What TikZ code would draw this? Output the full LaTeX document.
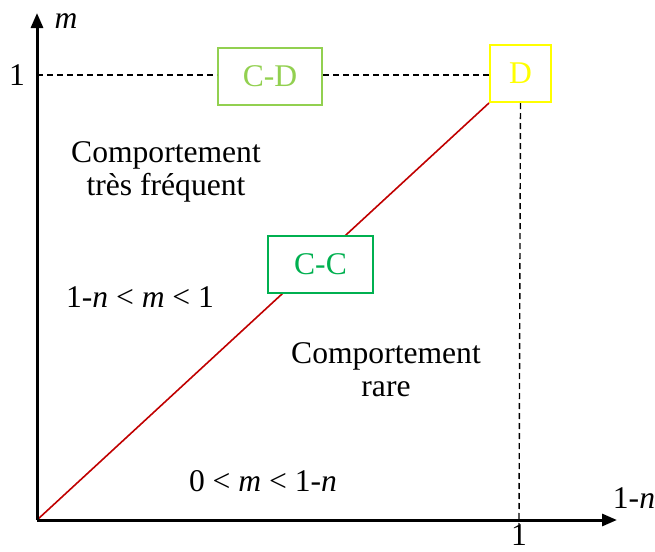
\documentclass[tikz,border=0pt]{standalone}
\usepackage{fontspec}
\setmainfont{Liberation Serif}
\usepackage{xcolor}
\definecolor{lightgreen}{HTML}{92D050}
\definecolor{midgreen}{HTML}{00B050}
\definecolor{brightyellow}{HTML}{FFFF00}
\definecolor{darkred}{HTML}{C00000}
\usepackage{tikz}
\usetikzlibrary{arrows.meta,backgrounds}

\begin{document}
\begin{tikzpicture}[x=0.5pt,y=-0.5pt,font=\fontsize{15.8}{16.6}\selectfont,
  axis/.style={line width=1.5pt,-{Triangle[length=7.5pt,width=6pt]}},
  guide/.style={line width=0.7pt,dash pattern=on 3pt off 2pt},
  zone/.style={align=center,inner sep=0pt},
  state/.style={rectangle,draw,line width=1pt,inner sep=0pt,minimum height=28.5pt}]
  \useasboundingbox (0,0) rectangle (655,552);
  % axes
  \coordinate (O) at (37,520);
  \coordinate (ytip) at (37,13);
  \coordinate (xtip) at (617,520);
  \coordinate (ytick) at (37,75);
  \coordinate (xend) at (519,525);
  \draw[axis] (O) -- (ytip);
  \draw[axis] (O) -- (xtip);
  \node (mlab) at (66,21) {\textit{m}};
  \node (nlab) at (634,498) {1-\textit{n}};
  \node (yone) at (17,75) {1};
  \node[inner sep=0pt] (xone) at (519,535) {1};
  % states
  \node[state,draw=lightgreen,text=lightgreen,minimum width=52pt] (CD) at (270,76.5) {C-D};
  \node[state,draw=brightyellow,text=brightyellow,minimum width=30.5pt] (D) at (520.5,73.5) {D};
  \node[state,draw=midgreen,text=midgreen,fill=white,minimum width=52.5pt] (CC) at (320.5,264) {C-C};
  % guides
  \draw[guide] (ytick) -- (ytick -| CD.west);
  \draw[guide] (ytick -| CD.east) -- (ytick -| D.west);
  \draw[guide] (D.south) -- (xend);
  \begin{pgfonlayer}{background}
    \draw[darkred,line width=0.8pt] (O) -- (D.south west);
  \end{pgfonlayer}
  % zones
  \node[zone] (freq) at (166,172) {Comportement\\très fréquent};
  \node[zone] (freqineq) at (140,297) {1-\textit{n} < \textit{m} < 1};
  \node[zone] (rare) at (386,370) {Comportement\\rare};
  \node[zone] (rareineq) at (263,481) {0 < \textit{m} < 1-\textit{n}};
\end{tikzpicture}
\end{document}
